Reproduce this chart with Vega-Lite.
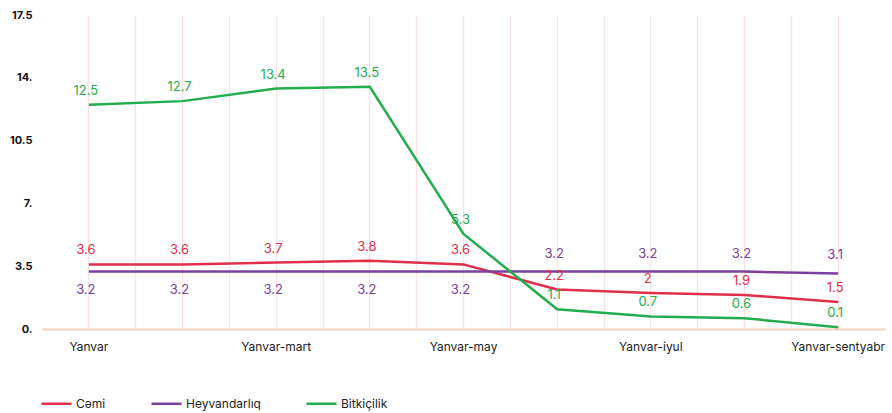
{
  "$schema": "https://vega.github.io/schema/vega-lite/v6.json",
  "autosize": "none",
  "width": 843,
  "height": 314,
  "padding": {"left": 42, "top": 15, "right": 7, "bottom": 84},
  "background": "white",
  "config": {
    "font": "Inter",
    "view": {"stroke": null}
  },
  "data": {
    "values": [
      {"month": "Yanvar", "series": "Cəmi", "value": 3.6},
      {"month": "Yanvar-fevral", "series": "Cəmi", "value": 3.6},
      {"month": "Yanvar-mart", "series": "Cəmi", "value": 3.7},
      {"month": "Yanvar-aprel", "series": "Cəmi", "value": 3.8},
      {"month": "Yanvar-may", "series": "Cəmi", "value": 3.6},
      {"month": "Yanvar-iyun", "series": "Cəmi", "value": 2.2},
      {"month": "Yanvar-iyul", "series": "Cəmi", "value": 2},
      {"month": "Yanvar-avqust", "series": "Cəmi", "value": 1.9},
      {"month": "Yanvar-sentyabr", "series": "Cəmi", "value": 1.5},
      {"month": "Yanvar", "series": "Heyvandarlıq", "value": 3.2},
      {"month": "Yanvar-fevral", "series": "Heyvandarlıq", "value": 3.2},
      {"month": "Yanvar-mart", "series": "Heyvandarlıq", "value": 3.2},
      {"month": "Yanvar-aprel", "series": "Heyvandarlıq", "value": 3.2},
      {"month": "Yanvar-may", "series": "Heyvandarlıq", "value": 3.2},
      {"month": "Yanvar-iyun", "series": "Heyvandarlıq", "value": 3.2},
      {"month": "Yanvar-iyul", "series": "Heyvandarlıq", "value": 3.2},
      {"month": "Yanvar-avqust", "series": "Heyvandarlıq", "value": 3.2},
      {"month": "Yanvar-sentyabr", "series": "Heyvandarlıq", "value": 3.1},
      {"month": "Yanvar", "series": "Bitkiçilik", "value": 12.5},
      {"month": "Yanvar-fevral", "series": "Bitkiçilik", "value": 12.7},
      {"month": "Yanvar-mart", "series": "Bitkiçilik", "value": 13.4},
      {"month": "Yanvar-aprel", "series": "Bitkiçilik", "value": 13.5},
      {"month": "Yanvar-may", "series": "Bitkiçilik", "value": 5.3},
      {"month": "Yanvar-iyun", "series": "Bitkiçilik", "value": 1.1},
      {"month": "Yanvar-iyul", "series": "Bitkiçilik", "value": 0.7},
      {"month": "Yanvar-avqust", "series": "Bitkiçilik", "value": 0.6},
      {"month": "Yanvar-sentyabr", "series": "Bitkiçilik", "value": 0.1}
    ]
  },
  "resolve": {"axis": {"x": "independent"}},
  "layer": [
    {
      "mark": {"type": "point", "opacity": 0},
      "encoding": {
        "x": {
          "field": "month", "type": "nominal", "sort": null,
          "scale": {"type": "band", "paddingInner": 0, "paddingOuter": 0},
          "axis": {
            "orient": "top", "title": null, "labels": false, "ticks": false, "domain": false,
            "grid": true, "gridColor": "#fbe1e1", "gridWidth": 1.3, "bandPosition": 0,
            "values": ["Yanvar-fevral", "Yanvar-mart", "Yanvar-aprel", "Yanvar-may", "Yanvar-iyun", "Yanvar-iyul", "Yanvar-avqust", "Yanvar-sentyabr"],
            "minExtent": 0, "maxExtent": 0
          }
        },
        "y": {"field": "value", "type": "quantitative"}
      }
    },
    {
      "mark": {"type": "line", "strokeWidth": 2.5},
      "encoding": {
        "x": {
          "field": "month", "type": "nominal", "sort": null, "bandPosition": 0.5,
          "axis": {
            "orient": "bottom", "title": null, "ticks": false, "bandPosition": 0.5,
            "grid": true, "gridColor": "#fbe1e1", "gridWidth": 1.3,
            "domainColor": "#f9cdbf", "domainWidth": 2,
            "labelAngle": 0, "labelFontSize": 12, "labelColor": "#222222", "labelPadding": 12,
            "labelExpr": "indexof(['Yanvar','Yanvar-mart','Yanvar-may','Yanvar-iyul','Yanvar-sentyabr'], datum.value) >= 0 ? datum.label : ''"
          }
        },
        "y": {
          "field": "value", "type": "quantitative",
          "scale": {"domain": [0, 17.5], "nice": false, "zero": true},
          "axis": {
            "title": null, "grid": false, "domain": false, "ticks": false,
            "values": [0, 3.5, 7, 10.5, 14, 17.5],
            "labelExpr": "datum.value % 1 == 0 ? datum.value + '.' : '' + datum.value",
            "labelFontSize": 11, "labelFontWeight": "bold", "labelColor": "#111111", "labelPadding": 10
          }
        },
        "color": {
          "field": "series", "type": "nominal",
          "scale": {"domain": ["Cəmi", "Heyvandarlıq", "Bitkiçilik"], "range": ["#de3049", "#7a40a0", "#22ad4f"]},
          "legend": {
            "title": null, "orient": "none", "direction": "horizontal", "legendX": -2, "legendY": 372,
            "symbolType": "stroke", "symbolSize": 900, "symbolStrokeWidth": 2.5,
            "labelFontSize": 12, "labelColor": "#222222", "labelOffset": 3, "columnPadding": 40
          }
        }
      }
    },
    {
      "transform": [{"filter": "datum.series == 'Cəmi' || datum.series == 'Bitkiçilik'"}],
      "mark": {"type": "text", "fontSize": 13, "dy": -14, "dx": -3, "baseline": "middle"},
      "encoding": {
        "x": {"field": "month", "type": "nominal", "sort": null, "bandPosition": 0.5, "axis": null},
        "y": {"field": "value", "type": "quantitative"},
        "text": {"field": "value", "type": "quantitative"},
        "color": {"field": "series", "type": "nominal", "legend": null}
      }
    },
    {
      "transform": [{"filter": "datum.series == 'Heyvandarlıq' && indexof(['Yanvar','Yanvar-fevral','Yanvar-mart','Yanvar-aprel','Yanvar-may'], datum.month) >= 0"}],
      "mark": {"type": "text", "fontSize": 13, "dy": 18, "dx": -3, "baseline": "middle"},
      "encoding": {
        "x": {"field": "month", "type": "nominal", "sort": null, "bandPosition": 0.5, "axis": null},
        "y": {"field": "value", "type": "quantitative"},
        "text": {"field": "value", "type": "quantitative"},
        "color": {"field": "series", "type": "nominal", "legend": null}
      }
    },
    {
      "transform": [{"filter": "datum.series == 'Heyvandarlıq' && indexof(['Yanvar','Yanvar-fevral','Yanvar-mart','Yanvar-aprel','Yanvar-may'], datum.month) < 0"}],
      "mark": {"type": "text", "fontSize": 13, "dy": -18, "dx": -3, "baseline": "middle"},
      "encoding": {
        "x": {"field": "month", "type": "nominal", "sort": null, "bandPosition": 0.5, "axis": null},
        "y": {"field": "value", "type": "quantitative"},
        "text": {"field": "value", "type": "quantitative"},
        "color": {"field": "series", "type": "nominal", "legend": null}
      }
    }
  ]
}
